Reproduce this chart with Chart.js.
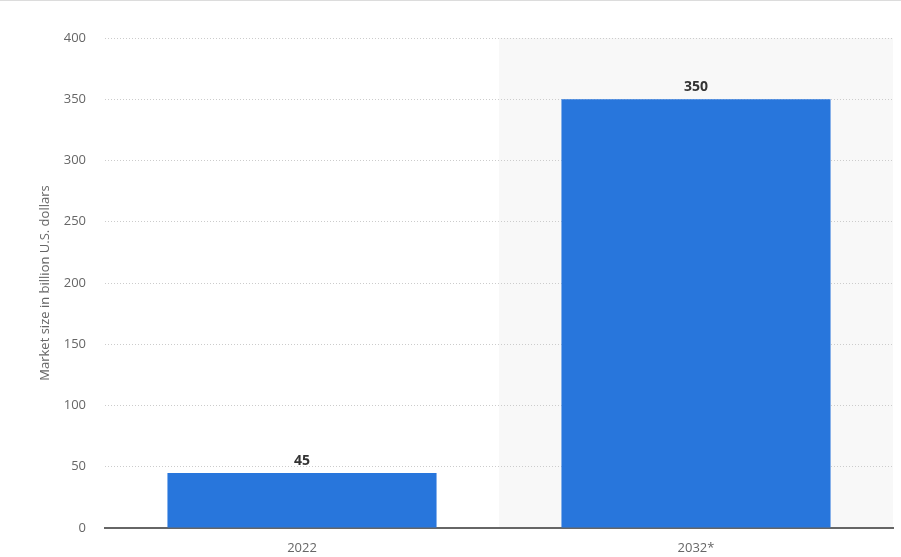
<!DOCTYPE html>
<html>
<head>
<meta charset="utf-8">
<script src="https://cdn.jsdelivr.net/npm/chart.js@4"></script>
<style>
  html, body { margin: 0; padding: 0; background: #fff; }
  #wrap { position: relative; width: 901px; height: 557px; }
  #topline { position: absolute; left: 0; top: 0; width: 901px; height: 1px; background: #dcdcdc; }
  canvas { position: absolute; left: 0; top: 0; }
</style>
</head>
<body>
<div id="wrap">
  <canvas id="marketChart" width="901" height="557"></canvas>
  <div id="topline"></div>
</div>
<script>
const years = ["2022", "2032*"];
const marketSize = [45, 350];
const yTicks = [0, 50, 100, 150, 200, 250, 300, 350, 400];
const forecastIndex = 1;

// grey shading behind the forecast column
const forecastShade = {
  id: "forecastShade",
  beforeDraw(chart) {
    const { ctx, chartArea, scales } = chart;
    const x = scales.x;
    const half = (x.getPixelForValue(1) - x.getPixelForValue(0)) / 2;
    const cx = x.getPixelForValue(forecastIndex);
    ctx.save();
    ctx.fillStyle = "#f8f8f8";
    ctx.fillRect(cx - half, chartArea.top, half * 2, chartArea.bottom - chartArea.top);
    ctx.restore();
  }
};

// value labels above bars
const barLabels = {
  id: "barLabels",
  afterDatasetsDraw(chart) {
    const { ctx } = chart;
    const meta = chart.getDatasetMeta(0);
    ctx.save();
    ctx.font = "bold 14px 'Open Sans'";
    ctx.fillStyle = "#333";
    ctx.textAlign = "center";
    ctx.textBaseline = "bottom";
    meta.data.forEach((bar, i) => {
      ctx.fillText(marketSize[i], bar.x, bar.y - 5);
    });
    ctx.restore();
  }
};

new Chart(document.getElementById("marketChart").getContext("2d"), {
  type: "bar",
  data: {
    labels: years,
    datasets: [{
      data: marketSize,
      backgroundColor: "#2876dc",
      categoryPercentage: 1,
      barPercentage: 0.683
    }]
  },
  options: {
    responsive: false,
    animation: false,
    layout: { padding: { top: 38, right: 8, left: 0, bottom: 0 } },
    plugins: {
      legend: { display: false },
      tooltip: { enabled: false }
    },
    scales: {
      x: {
        grid: { display: false, drawTicks: false },
        border: { display: true, color: "#666", width: 2 },
        ticks: { color: "#666", font: { family: "Open Sans", size: 13 }, padding: 12 },
        afterFit(scale) { scale.height = 29; }
      },
      y: {
        min: 0,
        max: 400,
        afterBuildTicks(scale) { scale.ticks = yTicks.map(v => ({ value: v })); },
        grid: { color: "#cccccc", lineWidth: 1, drawTicks: false },
        border: { display: false, dash: [1, 2] },
        ticks: { color: "#666", font: { family: "Open Sans", size: 13 }, padding: 19 },
        title: {
          display: true,
          text: "Market size in billion U.S. dollars",
          color: "#666",
          font: { family: "Open Sans", size: 13 },
          padding: { top: 37, bottom: 0 }
        },
        afterFit(scale) { scale.width = 105; }
      }
    }
  },
  plugins: [forecastShade, barLabels]
});
</script>
</body>
</html>
